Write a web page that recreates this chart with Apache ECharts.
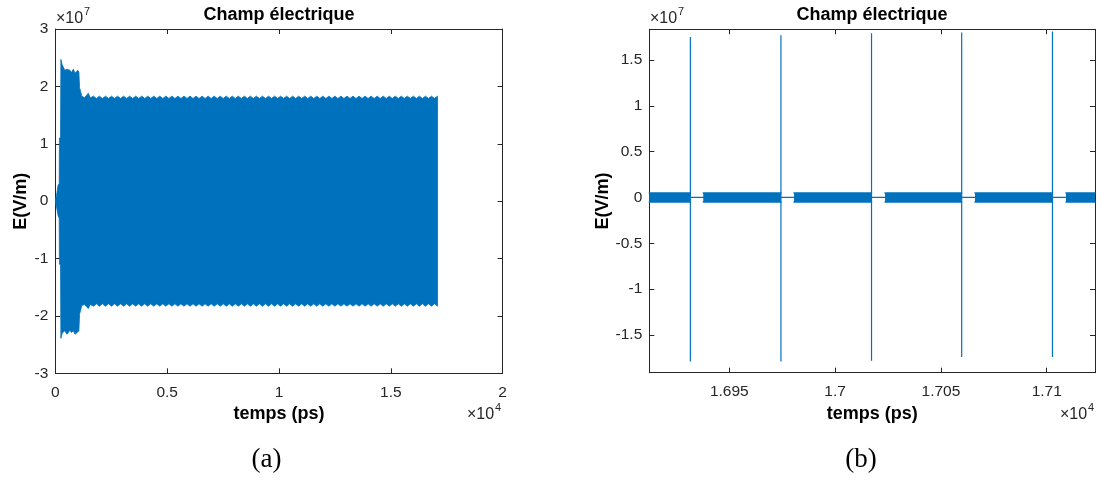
<!DOCTYPE html>
<html><head><meta charset="utf-8">
<script src="https://cdn.jsdelivr.net/npm/echarts@6/dist/echarts.min.js"></script>
<style>html,body{margin:0;padding:0;background:#fff;}#c{width:1101px;height:480px;}</style>
</head><body><div id="c"></div>
<script>
// ---------- Panel (a): envelope of the field (values in units of 1e7 V/m) ----------
const envTimes = [0, 50, 120, 170, 180, 230, 245, 300, 420, 520, 650, 720, 800, 880, 1000, 1050, 1080, 1180, 1300, 1470, 1560,
 1700, 1835, 1970, 2105, 2240, 2375, 2510, 2645, 2780, 2915, 3050, 3185, 3320, 3455, 3590, 3725, 3860, 3995, 4130, 4265,
 4400, 4535, 4670, 4805, 4940, 5075, 5210, 5345, 5480, 5615, 5750, 5885, 6020, 6155, 6290, 6425, 6560, 6695, 6830, 6965,
 7100, 7235, 7370, 7505, 7640, 7775, 7910, 8045, 8180, 8315, 8450, 8585, 8720, 8855, 8990, 9125, 9260, 9395, 9530, 9665,
 9800, 9935, 10070, 10205, 10340, 10475, 10610, 10745, 10880, 11015, 11150, 11285, 11420, 11555, 11690, 11825, 11960, 12095,
 12230, 12365, 12500, 12635, 12770, 12905, 13040, 13175, 13310, 13445, 13580, 13715, 13850, 13985, 14120, 14255, 14390, 14525,
 14660, 14795, 14930, 15065, 15200, 15335, 15470, 15605, 15740, 15875, 16010, 16145, 16280, 16415, 16550, 16685, 16820, 16955, 17090];
const envUpper = [0.02, 0.1, 0.28, 0.3, 1.1, 1.1, 2.47, 2.38, 2.28, 2.30, 2.28, 2.24, 2.30, 2.23, 2.28, 2.25, 1.98, 1.83, 1.80, 1.88, 1.80,
 1.83, 1.79, 1.83, 1.79, 1.83, 1.79, 1.83, 1.79, 1.83, 1.79, 1.83, 1.79, 1.83, 1.79, 1.83, 1.79, 1.83, 1.79, 1.83, 1.79,
 1.83, 1.79, 1.83, 1.79, 1.83, 1.79, 1.83, 1.79, 1.83, 1.79, 1.83, 1.79, 1.83, 1.79, 1.83, 1.79, 1.83, 1.79, 1.83, 1.79,
 1.83, 1.79, 1.83, 1.79, 1.83, 1.79, 1.83, 1.79, 1.83, 1.79, 1.83, 1.79, 1.83, 1.79, 1.83, 1.79, 1.83, 1.79, 1.83, 1.79,
 1.83, 1.79, 1.83, 1.79, 1.83, 1.79, 1.83, 1.79, 1.83, 1.79, 1.83, 1.79, 1.83, 1.79, 1.83, 1.79, 1.83, 1.79,
 1.83, 1.79, 1.83, 1.79, 1.83, 1.79, 1.83, 1.79, 1.83, 1.79, 1.83, 1.79, 1.83, 1.79, 1.83, 1.79, 1.83, 1.79,
 1.83, 1.79, 1.83, 1.79, 1.83, 1.79, 1.83, 1.79, 1.83, 1.79, 1.83, 1.79, 1.83, 1.79, 1.83, 1.79, 1.83, 1.79, 1.83];
const envLower = [-0.02, -0.1, -0.25, -0.3, -1.1, -1.1, -2.39, -2.30, -2.26, -2.32, -2.25, -2.29, -2.26, -2.32, -2.28, -2.26, -1.97, -1.82, -1.80, -1.87, -1.80,
 -1.83, -1.79, -1.83, -1.79, -1.83, -1.79, -1.83, -1.79, -1.83, -1.79, -1.83, -1.79, -1.83, -1.79, -1.83, -1.79, -1.83, -1.79, -1.83, -1.79,
 -1.83, -1.79, -1.83, -1.79, -1.83, -1.79, -1.83, -1.79, -1.83, -1.79, -1.83, -1.79, -1.83, -1.79, -1.83, -1.79, -1.83, -1.79, -1.83, -1.79,
 -1.83, -1.79, -1.83, -1.79, -1.83, -1.79, -1.83, -1.79, -1.83, -1.79, -1.83, -1.79, -1.83, -1.79, -1.83, -1.79, -1.83, -1.79, -1.83, -1.79,
 -1.83, -1.79, -1.83, -1.79, -1.83, -1.79, -1.83, -1.79, -1.83, -1.79, -1.83, -1.79, -1.83, -1.79, -1.83, -1.79, -1.83, -1.79,
 -1.83, -1.79, -1.83, -1.79, -1.83, -1.79, -1.83, -1.79, -1.83, -1.79, -1.83, -1.79, -1.83, -1.79, -1.83, -1.79, -1.83, -1.79,
 -1.83, -1.79, -1.83, -1.79, -1.83, -1.79, -1.83, -1.79, -1.83, -1.79, -1.83, -1.79, -1.83, -1.79, -1.83, -1.79, -1.83, -1.79, -1.83];
const xTicksA = [0, 5000, 10000, 15000, 20000];
const xLabelsA = ['0', '0.5', '1', '1.5', '2'];
const yTicksA = [-3, -2, -1, 0, 1, 2, 3];
const yLabelsA = ['-3', '-2', '-1', '0', '1', '2', '3'];

// ---------- Panel (b): zoom on the pulses (values in units of 1e7 V/m) ----------
const spikeTimes = [16931.6, 16974.4, 17017.2, 17059.8, 17102.7];
const spikeMax = [1.75, 1.77, 1.79, 1.80, 1.81];
const spikeMin = [-1.79, -1.79, -1.78, -1.74, -1.74];
const burstStart = [16912.2, 16937.7, 16980.6, 17023.6, 17066.1, 17109.1];
const burstEnd = [16931.6, 16974.4, 17017.2, 17059.8, 17102.7, 17122.8];
const burstUpper = [0.05, 0.05, 0.05, 0.05, 0.05, 0.05];
const burstLower = [-0.05, -0.05, -0.05, -0.05, -0.05, -0.05];
const xRangeB = [16912.2, 17122.8];
const yRangeB = [-1.911, 1.834];
const xTicksB = [16950, 17000, 17050, 17100];
const xLabelsB = ['1.695', '1.7', '1.705', '1.71'];
const yTicksB = [-1.5, -1, -0.5, 0, 0.5, 1, 1.5];
const yLabelsB = ['-1.5', '-1', '-0.5', '0', '0.5', '1', '1.5'];

const SCALE = 1e7;
const BLUE = '#0072BD';
const AX = '#262626';
const FF = "'Liberation Sans', Arial, Helvetica, sans-serif";

function lookup(ticks, labels, scale) {
  return function (v) {
    for (let i = 0; i < ticks.length; i++) {
      if (Math.abs(ticks[i] * scale - v) < 1e-6 * Math.max(1, Math.abs(v))) return labels[i];
    }
    return '';
  };
}

// band (a): one polygon (upper edge forward, lower edge backward), placed through the axes
const bandRows = envTimes.map((t, i) => [t, envUpper[i] * SCALE, envLower[i] * SCALE]);
function renderBand(params, api) {
  if (params.dataIndex !== 0) return null;
  const pts = [];
  for (let i = 0; i < bandRows.length; i++) pts.push(api.coord([bandRows[i][0], bandRows[i][1]]));
  for (let i = bandRows.length - 1; i >= 0; i--) pts.push(api.coord([bandRows[i][0], bandRows[i][2]]));
  return { type: 'polygon', shape: { points: pts }, style: { fill: BLUE, stroke: BLUE, lineWidth: 0.8 } };
}

const spikeLine = [[xRangeB[0], 0]];
spikeTimes.forEach((t, i) => {
  spikeLine.push([t, 0], [t, spikeMax[i] * SCALE], [t, spikeMin[i] * SCALE], [t, 0]);
});
spikeLine.push([xRangeB[1], 0]);

const upB = [], loB = [];
burstStart.forEach((s, i) => {
  if (i > 0) { upB.push([s, '-']); loB.push([s, '-']); }
  upB.push([s, burstUpper[i] * SCALE], [burstEnd[i], burstUpper[i] * SCALE]);
  loB.push([s, burstLower[i] * SCALE], [burstEnd[i], burstLower[i] * SCALE]);
});

function xAx(grid, pos, min, max, extra, labels) {
  return Object.assign({
    gridIndex: grid, type: 'value', position: pos, min: min, max: max,
    axisLine: { show: true, onZero: false, lineStyle: { color: AX, width: 1 } },
    axisTick: { show: true, inside: true, length: 5, lineStyle: { color: AX, width: 1 } },
    splitLine: { show: false },
    axisLabel: labels ? Object.assign({ show: true, color: AX, fontSize: 15.5, fontFamily: FF, margin: 11, showMinLabel: false, showMaxLabel: false }, labels) : { show: false }
  }, extra);
}
function yAx(grid, pos, min, max, extra, labels) {
  return Object.assign({
    gridIndex: grid, type: 'value', position: pos, min: min, max: max,
    axisLine: { show: true, onZero: false, lineStyle: { color: AX, width: 1 } },
    axisTick: { show: true, inside: true, length: 5, lineStyle: { color: AX, width: 1 } },
    splitLine: { show: false },
    axisLabel: labels ? Object.assign({ show: true, color: AX, fontSize: 15.5, fontFamily: FF, margin: 7 }, labels) : { show: false }
  }, extra);
}
const nameStyle = { fontWeight: 'bold', fontSize: 18, color: '#000', fontFamily: FF };

const fmtXA = lookup(xTicksA, xLabelsA, 1);
const fmtYA = lookup(yTicksA, yLabelsA, SCALE);
const fmtXB = lookup(xTicksB, xLabelsB, 1);
const fmtYB = lookup(yTicksB, yLabelsB, SCALE);

const option = {
  animation: false,
  backgroundColor: '#fff',
  grid: [
    { left: 55.4, top: 29, width: 447.2, height: 344.3, containLabel: false },
    { left: 649.3, top: 29.3, width: 445.7, height: 343.4, containLabel: false }
  ],
  xAxis: [
    xAx(0, 'bottom', 0, 20000, { interval: 5000, name: 'temps (ps)', nameLocation: 'middle', nameGap: 31, nameTextStyle: nameStyle },
        { formatter: fmtXA, showMinLabel: true, showMaxLabel: true }),
    xAx(0, 'top', 0, 20000, { interval: 5000 }, null),
    xAx(1, 'bottom', xRangeB[0], xRangeB[1], { minInterval: 50, maxInterval: 50, name: 'temps (ps)', nameLocation: 'middle', nameGap: 31, nameTextStyle: nameStyle },
        { formatter: fmtXB }),
    xAx(1, 'top', xRangeB[0], xRangeB[1], { minInterval: 50, maxInterval: 50 }, null)
  ],
  yAxis: [
    yAx(0, 'left', -3 * SCALE, 3 * SCALE, { interval: SCALE, name: 'E(V/m)', nameLocation: 'middle', nameGap: 25, nameTextStyle: nameStyle },
        { formatter: fmtYA }),
    yAx(0, 'right', -3 * SCALE, 3 * SCALE, { interval: SCALE }, null),
    yAx(1, 'left', yRangeB[0] * SCALE, yRangeB[1] * SCALE, { minInterval: 0.5 * SCALE, maxInterval: 0.5 * SCALE, name: 'E(V/m)', nameLocation: 'middle', nameGap: 36, nameTextStyle: nameStyle },
        { formatter: fmtYB, showMinLabel: false, showMaxLabel: false }),
    yAx(1, 'right', yRangeB[0] * SCALE, yRangeB[1] * SCALE, { minInterval: 0.5 * SCALE, maxInterval: 0.5 * SCALE }, null)
  ],
  series: [
    { type: 'custom', xAxisIndex: 0, yAxisIndex: 0, data: bandRows, encode: { x: 0, y: [1, 2] },
      renderItem: renderBand, silent: true, clip: true },
    { type: 'line', xAxisIndex: 2, yAxisIndex: 2, data: upB, symbol: 'none', silent: true, connectNulls: false,
      lineStyle: { color: BLUE, width: 1.5, cap: 'round', join: 'round' }, areaStyle: { color: BLUE, opacity: 1 } },
    { type: 'line', xAxisIndex: 2, yAxisIndex: 2, data: loB, symbol: 'none', silent: true, connectNulls: false,
      lineStyle: { color: BLUE, width: 1.5, cap: 'round', join: 'round' }, areaStyle: { color: BLUE, opacity: 1 } },
    { type: 'line', xAxisIndex: 2, yAxisIndex: 2, data: spikeLine, symbol: 'none', silent: true,
      lineStyle: { color: BLUE, width: 1.2 } }
  ],
  graphic: [
    { type: 'text', x: 279, y: 15, style: { text: 'Champ électrique', font: "bold 18px " + FF, fill: '#000', align: 'center', verticalAlign: 'middle' } },
    { type: 'text', x: 872, y: 15, style: { text: 'Champ électrique', font: "bold 18px " + FF, fill: '#000', align: 'center', verticalAlign: 'middle' } },
    { type: 'text', x: 56, y: 18.5, style: { text: '×10', font: "16px " + FF, fill: AX, align: 'left', verticalAlign: 'middle' } },
    { type: 'text', x: 84, y: 11.5, style: { text: '7', font: "11px " + FF, fill: AX, align: 'left', verticalAlign: 'middle' } },
    { type: 'text', x: 650, y: 18.5, style: { text: '×10', font: "16px " + FF, fill: AX, align: 'left', verticalAlign: 'middle' } },
    { type: 'text', x: 678, y: 11.5, style: { text: '7', font: "11px " + FF, fill: AX, align: 'left', verticalAlign: 'middle' } },
    { type: 'text', x: 467, y: 415, style: { text: '×10', font: "16px " + FF, fill: AX, align: 'left', verticalAlign: 'middle' } },
    { type: 'text', x: 495, y: 407.5, style: { text: '4', font: "11px " + FF, fill: AX, align: 'left', verticalAlign: 'middle' } },
    { type: 'text', x: 1060, y: 415, style: { text: '×10', font: "16px " + FF, fill: AX, align: 'left', verticalAlign: 'middle' } },
    { type: 'text', x: 1088, y: 407.5, style: { text: '4', font: "11px " + FF, fill: AX, align: 'left', verticalAlign: 'middle' } },
    { type: 'text', x: 266.5, y: 460, style: { text: '(a)', font: "27px 'Liberation Serif', 'DejaVu Serif', serif", fill: '#000', align: 'center', verticalAlign: 'middle' } },
    { type: 'text', x: 861, y: 460, style: { text: '(b)', font: "27px 'Liberation Serif', 'DejaVu Serif', serif", fill: '#000', align: 'center', verticalAlign: 'middle' } }
  ]
};

const chart = echarts.init(document.getElementById('c'), null, { renderer: 'canvas' });
chart.setOption(option);
</script>
</body></html>
